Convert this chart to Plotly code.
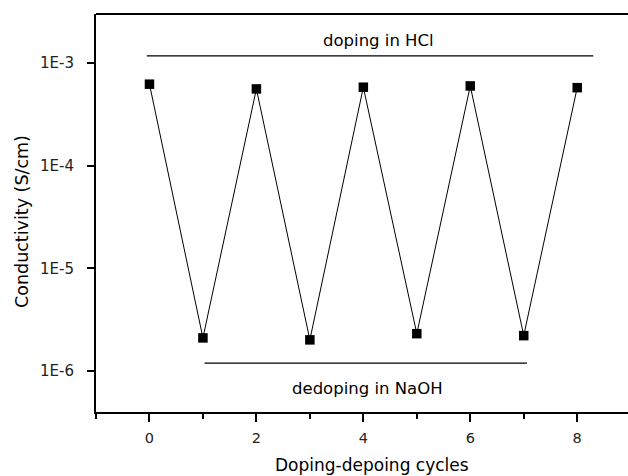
import plotly.graph_objects as go

cycles = [0, 1, 2, 3, 4, 5, 6, 7, 8]
conductivity = [6.25e-4, 2.10e-6, 5.62e-4, 2.01e-6, 5.84e-4, 2.31e-6, 6.01e-4, 2.21e-6, 5.78e-4]

hcl_line_x = [-0.05, 8.30]
hcl_line_y = [1.18e-3, 1.18e-3]
naoh_line_x = [1.03, 7.06]
naoh_line_y = [1.19e-6, 1.19e-6]

y_tickvals = [1e-3, 1e-4, 1e-5, 1e-6]
y_ticktext = ["1E-3", "1E-4", "1E-5", "1E-6"]
x_tickvals = [0, 2, 4, 6, 8]

FONT = "DejaVu Sans"

fig = go.Figure()
fig.add_trace(go.Scatter(
    x=cycles, y=conductivity, mode="lines+markers",
    line=dict(color="black", width=1),
    marker=dict(symbol="square", size=9.5, color="black"),
    showlegend=False, hoverinfo="skip"))
fig.add_trace(go.Scatter(x=hcl_line_x, y=hcl_line_y, mode="lines",
                         line=dict(color="black", width=1.3), showlegend=False))
fig.add_trace(go.Scatter(x=naoh_line_x, y=naoh_line_y, mode="lines",
                         line=dict(color="black", width=1.3), showlegend=False))

fig.add_annotation(x=4.29, y=-2.783, xref="x", yref="y", text="doping in HCl",
                   showarrow=False, font=dict(family=FONT, size=16.5, color="black"))
fig.add_annotation(x=4.08, y=-6.17, xref="x", yref="y", text="dedoping in NaOH",
                   showarrow=False, font=dict(family=FONT, size=16.5, color="black"))

# axis titles
fig.add_annotation(x=22, y=222, xref="paper", yref="paper", text="Conductivity (S/cm)",
                   showarrow=False, textangle=-90,
                   font=dict(family=FONT, size=17.5, color="black"))
fig.add_annotation(x=372, y=465, xref="paper", yref="paper", text="Doping-depoing cycles",
                   showarrow=False, font=dict(family=FONT, size=17, color="black"))

# convert pixel positions of titles to paper coords
W, H = 628, 476
L, R, T, B = 96, 0, 14, 64
pw, ph = W - L - R, H - T - B
for a in fig.layout.annotations[2:]:
    a.x = (a.x - L) / pw
    a.y = 1 - (a.y - T) / ph
    a.xanchor = "center"
    a.yanchor = "middle"

fig.add_shape(type="line", xref="paper", yref="paper", x0=0, x1=1, y0=1, y1=1,
              line=dict(color="black", width=2))

fig.update_layout(
    width=W, height=H,
    margin=dict(l=L, r=R, t=T, b=B, pad=0),
    paper_bgcolor="white", plot_bgcolor="white",
    font=dict(family=FONT, color="black"),
    xaxis=dict(range=[-1, 8.95], tickvals=x_tickvals, showgrid=False, zeroline=False,
               showline=True, linecolor="black", linewidth=2,
               ticks="outside", ticklen=8, tickwidth=2, tickcolor="black",
               ticklabelstandoff=4,
               tickfont=dict(family=FONT, size=14.5, color="#222"),
               minor=dict(ticks="outside", dtick=1, tick0=-1, ticklen=5, tickwidth=1.5,
                          tickcolor="black", showgrid=False)),
    yaxis=dict(type="log", range=[-6.40, -2.52], tickvals=y_tickvals, ticktext=y_ticktext,
               showgrid=False, zeroline=False,
               showline=True, linecolor="black", linewidth=2,
               ticks="outside", ticklen=7, tickwidth=2, tickcolor="black",
               ticklabelstandoff=10,
               tickfont=dict(family=FONT, size=15, color="#222")),
)

fig.write_html("out.html", config={"displayModeBar": False},
               post_script="document.body.style.margin='0';document.body.style.padding='0';"
                           "document.body.style.overflow='hidden';")
